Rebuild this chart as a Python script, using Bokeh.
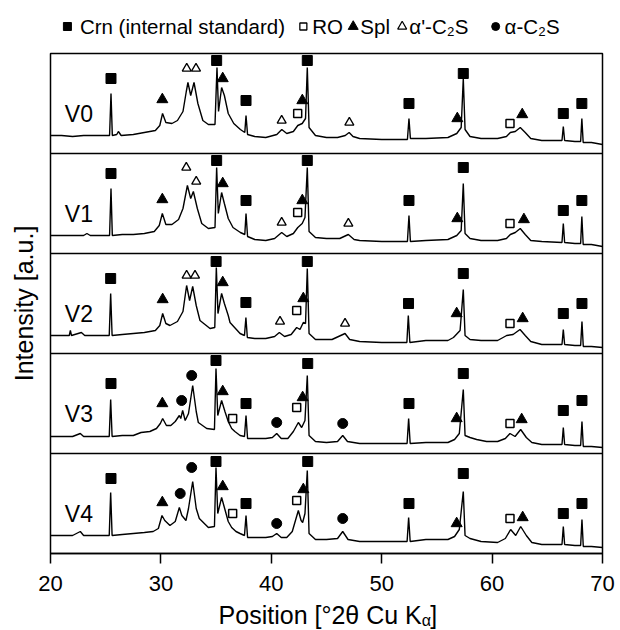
from bokeh.plotting import figure
from bokeh.models import Span, Label, FixedTicker
from bokeh.layouts import column
from bokeh.embed import file_html
from bokeh.resources import INLINE
from bokeh.core.properties import value

FONT = "Liberation Sans"

# ---------------- data ----------------
x_ticks = [20, 30, 40, 50, 60, 70]
samples = ["V0", "V1", "V2", "V3", "V4"]

# pattern points (2theta, intensity in a.u. above each panel's floor; panel height = 100)
V0 = [(20.0,18),(21.0,18),(22.0,17),(23.0,18),(24.0,18),(25.35,18),(25.48,60),(25.6,18),(26.0,19),(26.15,22),
      (26.4,18),(27.5,19),(28.5,21),(29.5,23),(29.9,28),(30.15,40),(30.45,31),(31.0,30),(31.5,33),(32.0,42),
      (32.3,62),(32.45,71),(32.7,58),(33.0,71),(33.35,50),(33.8,33),(34.3,29),(34.9,29),(35.08,86),(35.22,42),
      (35.5,66),(35.75,58),(36.1,40),(36.6,30),(37.2,24),(37.6,21),(37.71,38),(37.85,19),(38.5,17),(39.5,16),
      (40.5,19),(40.95,24),(41.4,20),(42.0,22),(42.4,28),(42.8,30),(43.1,35),(43.26,86),(43.42,26),(44.0,18),
      (45.0,16),(46.0,16),(46.7,18),(47.05,21),(47.4,17),(48.0,15),(50.0,14),(52.33,14),(52.47,35),(52.6,15),
      (54.0,15),(56.0,16),(56.8,20),(57.2,26),(57.39,75),(57.55,24),(58.0,17),(59.0,15),(60.5,15),(61.3,17),
      (61.65,21),(62.1,22),(62.55,26),(63.0,21),(63.5,15),(64.5,13),(66.33,13),(66.45,27),(66.57,13),(67.5,12),
      (68.02,12),(68.13,35),(68.25,11),(69.0,11),(70.0,9)]
V1 = [(20.0,18),(21.0,18),(22.0,18),(23.0,18),(23.3,20),(23.6,18),(24.5,18),(25.35,18),(25.48,65),(25.6,18),
      (26.5,19),(27.5,19),(28.5,20),(29.4,22),(29.85,28),(30.13,40),(30.45,29),(31.0,29),(31.6,34),(32.0,45),
      (32.4,68),(32.7,55),(32.94,62),(33.3,45),(33.7,30),(34.3,25),(34.9,26),(35.05,86),(35.2,40),(35.5,61),
      (35.75,50),(36.1,35),(36.53,26),(37.2,21),(37.6,19),(37.71,40),(37.85,17),(38.5,14),(39.5,13),(40.3,15),
      (40.94,21),(41.4,17),(42.0,20),(42.4,26),(42.8,30),(43.05,36),(43.26,86),(43.42,22),(44.0,16),(45.0,15),
      (46.2,15),(46.98,19),(47.5,14),(48.0,13),(50.0,12),(52.33,12),(52.47,38),(52.6,12),(54.0,13),(56.0,14),
      (56.8,18),(57.2,23),(57.39,70),(57.55,20),(58.0,15),(59.0,13),(60.5,13),(61.3,15),(61.65,19),(62.1,21),
      (62.55,25),(63.0,19),(63.5,13),(64.5,12),(66.33,11),(66.45,30),(66.57,11),(67.5,10),(68.02,10),(68.13,37),
      (68.25,9),(69.0,9),(70.0,7)]
V2 = [(20.0,18),(21.0,18),(21.7,18),(21.8,23),(21.9,18),(22.8,21),(23.1,18),(24.0,18),(25.32,18),(25.45,60),
      (25.58,18),(26.5,19),(27.5,20),(28.5,21),(29.5,23),(29.9,28),(30.16,40),(30.45,30),(30.82,28),(31.5,32),
      (32.0,42),(32.33,68),(32.6,53),(32.88,67),(33.2,48),(33.54,33),(34.45,25),(34.88,26),(35.02,86),(35.17,40),
      (35.5,60),(35.75,50),(36.1,38),(36.26,31),(37.17,20),(37.57,18),(37.7,36),(37.83,16),(38.5,15),(39.5,15),
      (40.3,17),(40.73,21),(41.2,17),(41.8,19),(42.3,26),(42.6,24),(42.9,31),(43.1,30),(43.26,85),(43.42,20),
      (44.0,14),(45.5,14),(46.68,20),(47.1,14),(48.0,12),(50.0,11),(52.28,11),(52.41,38),(52.55,11),(54.0,13),
      (56.0,13),(56.5,16),(57.1,23),(57.39,64),(57.55,18),(58.0,14),(59.0,13),(60.5,13),(61.32,18),(61.9,19),
      (62.53,24),(63.0,18),(63.5,12),(64.5,9),(66.33,9),(66.45,24),(66.57,9),(67.5,8),(68.02,8),(68.14,32),
      (68.26,7),(69.0,7),(70.0,6)]
V3 = [(20.0,17),(21.0,17),(22.0,17),(22.7,20),(23.0,17),(24.0,17),(25.32,17),(25.45,54),(25.58,17),(26.5,18),
      (27.5,18),(28.2,21),(29.0,22),(29.6,25),(29.95,30),(30.16,35),(30.5,28),(30.9,28),(31.3,32),(31.67,38),
      (31.8,35),(31.97,43),(32.2,33),(32.5,40),(32.88,68),(33.2,42),(33.39,31),(34.15,25),(34.85,24),(34.99,85),
      (35.15,38),(35.5,53),(35.8,42),(36.1,32),(36.41,25),(36.7,22),(37.17,18),(37.57,17),(37.71,38),(37.85,15),
      (38.5,15),(39.5,15),(40.1,16),(40.49,20),(40.9,15),(41.5,15),(42.0,22),(42.45,31),(42.75,26),(43.05,33),
      (43.26,78),(43.42,18),(44.0,12),(45.0,11),(46.0,12),(46.47,18),(46.9,12),(48.0,10),(50.0,10),(52.3,10),
      (52.44,35),(52.58,10),(54.0,11),(56.0,11),(56.6,14),(57.03,20),(57.39,64),(57.55,18),(58.0,16),(58.6,14),
      (59.5,12),(60.5,12),(61.2,15),(61.62,20),(62.08,17),(62.59,24),(63.1,16),(63.6,11),(64.5,9),(66.33,9),
      (66.45,26),(66.57,9),(67.5,8),(68.02,8),(68.14,32),(68.26,7),(69.0,7),(70.0,6)]
V4 = [(20.0,18),(21.0,18),(22.0,18),(22.7,22),(23.0,18),(24.0,18),(25.32,18),(25.45,61),(25.58,18),(26.5,19),
      (27.5,20),(28.5,21),(29.3,22),(29.77,25),(30.1,38),(30.35,33),(30.82,28),(31.3,32),(31.67,46),(31.9,38),
      (32.27,33),(32.5,45),(32.88,72),(33.2,45),(33.48,35),(34.3,26),(34.85,27),(34.99,86),(35.15,40),(35.5,56),
      (35.8,44),(36.1,32),(36.41,26),(36.8,22),(37.17,20),(37.57,18),(37.71,38),(37.85,16),(38.5,16),(39.5,16),
      (40.1,17),(40.49,20),(40.9,16),(41.4,16),(41.9,22),(42.45,43),(42.7,33),(42.84,31),(43.05,40),(43.26,83),
      (43.42,20),(44.0,14),(45.0,14),(46.0,15),(46.47,22),(46.95,14),(48.0,12),(50.0,12),(52.3,12),(52.44,36),
      (52.58,12),(54.0,14),(56.0,14),(56.6,17),(57.03,24),(57.39,62),(57.55,18),(58.0,15),(59.0,12),(60.5,11),
      (61.2,15),(61.68,24),(62.14,18),(62.59,27),(63.1,18),(63.6,11),(64.5,9),(66.33,9),(66.45,27),(66.57,9),
      (67.5,8),(68.02,8),(68.14,34),(68.26,7),(69.0,7),(70.0,6)]

# phase markers: (phase, 2theta, height)
V0_marks = [("Crn",25.48,75),("Crn",35.05,93),("Crn",37.71,53),("Crn",43.26,93),("Crn",52.47,50),("Crn",57.39,80),
            ("Crn",66.45,40),("Crn",68.13,50),("RO",42.39,40),("RO",61.62,30),("Spl",30.13,54),("Spl",35.6,75),
            ("Spl",42.81,53),("Spl",56.85,35),("Spl",62.73,39),("a'C2S",32.34,85),("a'C2S",33.18,85),
            ("a'C2S",40.94,33),("a'C2S",47.07,31)]
V1_marks = [("Crn",25.48,80),("Crn",35.05,93),("Crn",37.71,53),("Crn",43.26,93),("Crn",52.47,53),("Crn",57.39,86),
            ("Crn",66.45,43),("Crn",68.13,53),("RO",42.39,41),("RO",61.62,30),("Spl",30.13,54),("Spl",35.6,70),
            ("Spl",42.81,53),("Spl",56.85,35),("Spl",62.88,34),("a'C2S",32.3,86),("a'C2S",33.2,72),
            ("a'C2S",40.94,31),("a'C2S",46.98,30)]
V2_marks = [("Crn",25.45,75),("Crn",35.0,92),("Crn",37.7,51),("Crn",43.26,92),("Crn",52.43,50),("Crn",57.39,80),
            ("Crn",66.45,40),("Crn",68.14,50),("RO",42.3,43),("RO",61.62,30),("Spl",30.16,54),("Spl",35.6,71),
            ("Spl",42.9,55),("Spl",56.79,40),("Spl",62.77,35),("a'C2S",32.33,78),("a'C2S",33.09,78),
            ("a'C2S",40.79,32),("a'C2S",46.68,30)]
V3_marks = [("Crn",25.48,70),("Crn",34.99,93),("Crn",37.71,50),("Crn",43.3,90),("Crn",52.47,50),("Crn",57.39,80),
            ("Crn",66.45,43),("Crn",68.14,53),("RO",36.5,35),("RO",42.3,46),("RO",61.62,30),("Spl",30.13,50),
            ("Spl",35.6,62),("Spl",42.84,56),("Spl",56.79,35),("Spl",62.68,34),("aC2S",31.88,53),
            ("aC2S",32.79,78),("aC2S",40.49,31),("aC2S",46.47,30)]
V4_marks = [("Crn",25.48,75),("Crn",34.99,92),("Crn",37.71,50),("Crn",43.3,92),("Crn",52.47,50),("Crn",57.39,80),
            ("Crn",66.45,40),("Crn",68.14,50),("RO",36.5,40),("RO",42.3,53),("RO",61.62,35),("Spl",30.13,51),
            ("Spl",35.6,67),("Spl",42.9,64),("Spl",56.79,30),("Spl",62.77,36),("aC2S",31.75,60),
            ("aC2S",32.79,86),("aC2S",40.49,30),("aC2S",46.47,35)]

phases = ["Crn", "RO", "Spl", "a'C2S", "aC2S"]
legend_labels = ["Crn (internal standard)", "RO", "Spl", "\u03b1'-C\u2082S", "\u03b1-C\u2082S"]
x_title_parts = ["Position [\u00b02\u03b8 Cu K", "\u03b1", "]"]
y_title = "Intensity [a.u.]"

patterns = [V0, V1, V2, V3, V4]
marks = [V0_marks, V1_marks, V2_marks, V3_marks, V4_marks]

# ---------------- styles ----------------
style = {
    "Crn":   dict(marker="square",   size=10, fill_color="black", line_color="black", line_width=1),
    "RO":    dict(marker="square",   size=8,  fill_color="white", line_color="black", line_width=1.5),
    "Spl":   dict(marker="triangle", size=11, fill_color="black", line_color="black", line_width=1),
    "a'C2S": dict(marker="triangle", size=9,  fill_color="white", line_color="black", line_width=1.3),
    "aC2S":  dict(marker="circle",   size=10, fill_color="black", line_color="black", line_width=1),
}
legend_style = {
    "Crn":   dict(marker="square",   size=8,  fill_color="black", line_color="black", line_width=1),
    "RO":    dict(marker="square",   size=7,  fill_color="white", line_color="black", line_width=1.3),
    "Spl":   dict(marker="triangle", size=10, fill_color="black", line_color="black", line_width=1),
    "a'C2S": dict(marker="triangle", size=9,  fill_color="white", line_color="black", line_width=1.2),
    "aC2S":  dict(marker="circle",   size=8,  fill_color="black", line_color="black", line_width=1),
}
PANEL = 100
W = 620

def strip(h):
    f = figure(width=W, height=h, x_range=(0, W), y_range=(0, h), output_backend="svg",
               toolbar_location=None, x_axis_location=None, y_axis_location=None, min_border=0)
    f.outline_line_color = None
    f.grid.visible = False
    return f

# ---------------- legend strip ----------------
LH = 50
lg = strip(LH)
leg_mark_x = [19, 284, 340, 395, 500]
leg_text_x = [33, 294, 348, 403, 510]
for ph, mx in zip(phases, leg_mark_x):
    lg.scatter([mx], [LH - 26], **legend_style[ph])
lg.text(x=leg_text_x, y=[LH - 26] * 5, text=legend_labels, text_font=value(FONT),
        text_font_size="20.5px", text_baseline="middle", text_align="left", text_color="black")

# ---------------- main plot ----------------
p = figure(width=W, height=551, x_range=(20, 70), y_range=(0, 5 * PANEL), output_backend="svg",
           toolbar_location=None,
           min_border_left=50, min_border_right=18, min_border_top=3, min_border_bottom=48)
p.grid.visible = False
p.outline_line_color = "black"
p.outline_line_width = 1.5
p.xaxis.ticker = x_ticks
p.xaxis.major_tick_out = 10
p.xaxis.major_tick_in = 0
p.xaxis.minor_tick_line_color = None
p.xaxis.axis_line_width = 1.5
p.xaxis.major_tick_line_width = 1.5
p.xaxis.major_label_text_font = FONT
p.xaxis.major_label_text_font_size = "22px"
p.xaxis.major_label_text_color = "black"
p.xaxis.major_label_standoff = 12

p.yaxis.ticker = FixedTicker(ticks=[])
p.yaxis.axis_line_color = None
p.yaxis.major_tick_line_color = None
p.yaxis.minor_tick_line_color = None
p.yaxis.major_tick_out = 0
p.yaxis.major_label_standoff = 0
p.yaxis.axis_label = y_title
p.yaxis.axis_label_text_font = FONT
p.yaxis.axis_label_text_font_size = "25px"
p.yaxis.axis_label_text_font_style = "normal"
p.yaxis.axis_label_text_color = "black"
p.yaxis.axis_label_standoff = 13

for k in range(1, 5):
    p.add_layout(Span(location=k * PANEL, dimension="width", line_color="black", line_width=1.5))

for i, (name, pts, mk) in enumerate(zip(samples, patterns, marks)):
    off = (4 - i) * PANEL
    xs = [a for a, _ in pts]
    ys = [b + off for _, b in pts]
    p.line(xs, ys, line_color="black", line_width=1.4)
    for ph in phases:
        mx = [x for (q, x, _) in mk if q == ph]
        my = [y + off for (q, _, y) in mk if q == ph]
        if mx:
            p.scatter(mx, my, **style[ph])
    p.add_layout(Label(x=21.3, y=off + 40, text=name, text_font=FONT, text_font_size="23px",
                       text_baseline="middle", text_align="left", text_color="black"))

# ---------------- x title strip ----------------
TH = 28
xt = strip(TH)
xt.text(x=[417], y=[TH - 13.5], text=[x_title_parts[0]], text_font=value(FONT), text_font_size="25px",
        text_align="right", text_baseline="middle", text_color="black")
xt.text(x=[417], y=[TH - 18.5], text=[x_title_parts[1]], text_font=value(FONT), text_font_size="16px",
        text_align="left", text_baseline="middle", text_color="black")
xt.text(x=[426.5], y=[TH - 13.5], text=[x_title_parts[2]], text_font=value(FONT), text_font_size="25px",
        text_align="left", text_baseline="middle", text_color="black")

layout = column(lg, p, xt)
open("out.html", "w").write(file_html(layout, INLINE))
